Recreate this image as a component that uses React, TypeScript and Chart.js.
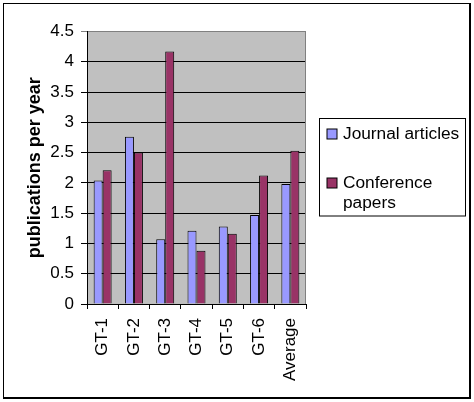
import React, { useEffect, useRef } from 'react';
import { Chart, registerables } from 'chart.js';

Chart.register(...registerables);

const categories = ['GT-1', 'GT-2', 'GT-3', 'GT-4', 'GT-5', 'GT-6', 'Average'];
const journalArticles = [2.04, 2.76, 1.07, 1.21, 1.28, 1.47, 1.98];
const conferencePapers = [2.21, 2.5, 4.17, 0.88, 1.16, 2.12, 2.53];
const seriesLabels = ['Journal articles', 'Conference papers'];
const yTickLabels = ['0', '0.5', '1', '1.5', '2', '2.5', '3', '3.5', '4', '4.5'];
const yAxisTitle = 'publications per year';

const FONT = "'Liberation Sans', Arial, sans-serif";
const W = 474;
const H = 402;

const framePlugin = {
  id: 'frame',
  beforeDraw(chart: any) {
    const { ctx, chartArea } = chart;
    ctx.save();
    ctx.fillStyle = '#ffffff';
    ctx.fillRect(0, 0, chart.width, chart.height);
    ctx.fillStyle = '#c0c0c0';
    ctx.fillRect(chartArea.left, chartArea.top, chartArea.right - chartArea.left, chartArea.bottom - chartArea.top);
    ctx.strokeStyle = '#000000';
    ctx.lineWidth = 1;
    ctx.strokeRect(3.5, 3.5, chart.width - 8, chart.height - 8);
    ctx.lineWidth = 2;
    ctx.beginPath();
    ctx.moveTo(chart.width - 4, 3);
    ctx.lineTo(chart.width - 4, chart.height - 4);
    ctx.lineTo(3, chart.height - 4);
    ctx.stroke();
    ctx.restore();
  },
  beforeDatasetsDraw(chart: any) {
    const { ctx, chartArea } = chart;
    ctx.save();
    ctx.strokeStyle = '#808080';
    ctx.lineWidth = 1;
    ctx.beginPath();
    ctx.moveTo(Math.round(chartArea.right) - 0.5, chartArea.top);
    ctx.lineTo(Math.round(chartArea.right) - 0.5, chartArea.bottom);
    ctx.stroke();
    ctx.restore();
  },
};

const legendPlugin = {
  id: 'boxLegend',
  afterDraw(chart: any) {
    const { ctx, chartArea } = chart;
    const bx = Math.round(chartArea.right) + 13.5;
    const by = 118.5;
    const bw = 146;
    const bh = 97.5;
    ctx.save();
    ctx.fillStyle = '#ffffff';
    ctx.fillRect(bx, by, bw, bh);
    ctx.strokeStyle = '#000000';
    ctx.lineWidth = 1;
    ctx.strokeRect(bx, by, bw, bh);
    ctx.font = `17.3px ${FONT}`;
    ctx.textBaseline = 'alphabetic';
    ctx.textAlign = 'left';
    const textX = bx + 23.5;
    const maxW = 124;
    const baselines = [139, 188];
    chart.data.datasets.forEach((ds: any, i: number) => {
      const words = String(ds.label).split(' ');
      const lines: string[] = [];
      let cur = '';
      words.forEach((w) => {
        const t = cur ? cur + ' ' + w : w;
        if (ctx.measureText(t).width > maxW && cur) {
          lines.push(cur);
          cur = w;
        } else {
          cur = t;
        }
      });
      if (cur) lines.push(cur);
      const base = baselines[i];
      ctx.fillStyle = ds.backgroundColor;
      ctx.fillRect(bx + 7.5, base - 10, 10, 10);
      ctx.strokeStyle = '#000000';
      ctx.strokeRect(bx + 7.5, base - 10, 10, 10);
      ctx.fillStyle = '#000000';
      lines.forEach((ln, j) => ctx.fillText(ln, textX, base + j * 20));
    });
    ctx.restore();
  },
};

export default function App() {
  const ref = useRef<HTMLCanvasElement | null>(null);
  useEffect(() => {
    document.body.style.margin = '0';
    if (!ref.current) return;
    const chart = new Chart(ref.current, {
      type: 'bar',
      data: {
        labels: categories,
        datasets: [
          {
            label: seriesLabels[0],
            data: journalArticles,
            backgroundColor: '#9999ff',
            borderColor: '#000000',
            borderWidth: 1,
            categoryPercentage: 0.575,
            barPercentage: 1,
          },
          {
            label: seriesLabels[1],
            data: conferencePapers,
            backgroundColor: '#993366',
            borderColor: '#000000',
            borderWidth: 1,
            categoryPercentage: 0.575,
            barPercentage: 1,
          },
        ],
      },
      options: {
        responsive: false,
        animation: false,
        devicePixelRatio: 1,
        layout: { padding: { left: 0, top: 31.5, right: 168, bottom: 0 } },
        plugins: {
          legend: { display: false },
          tooltip: { enabled: false },
          title: { display: false },
        },
        scales: {
          x: {
            afterFit: (s: any) => {
              s.height = 98;
            },
            grid: {
              offset: true,
              drawOnChartArea: false,
              drawTicks: true,
              tickLength: 5,
              color: '#000000',
            },
            border: { display: true, color: '#000000' },
            ticks: {
              minRotation: 90,
              maxRotation: 90,
              autoSkip: false,
              padding: 9,
              color: '#000000',
              font: { family: FONT, size: 17 },
            },
          },
          y: {
            min: 0,
            max: 4.5,
            afterFit: (s: any) => {
              s.width = 87;
            },
            grid: {
              tickLength: 6,
              color: (c: any) => (c.tick && c.tick.value >= 4.5 ? '#808080' : '#000000'),
            },
            border: { display: true, color: '#000000' },
            ticks: {
              stepSize: 0.5,
              padding: 7,
              color: '#000000',
              font: { family: FONT, size: 17 },
              callback: (_v: any, i: number) => yTickLabels[i],
            },
            title: {
              display: true,
              text: yAxisTitle,
              color: '#000000',
              font: { family: FONT, size: 18, weight: 'bold' },
              padding: { top: 24, bottom: 0 },
            },
          },
        },
      },
      plugins: [framePlugin, legendPlugin],
    });
    return () => chart.destroy();
  }, []);
  return (
    <div style={{ position: 'absolute', left: 0, top: 0, width: W, height: H }}>
      <canvas ref={ref} width={W} height={H} style={{ display: 'block', width: W, height: H }} />
    </div>
  );
}
